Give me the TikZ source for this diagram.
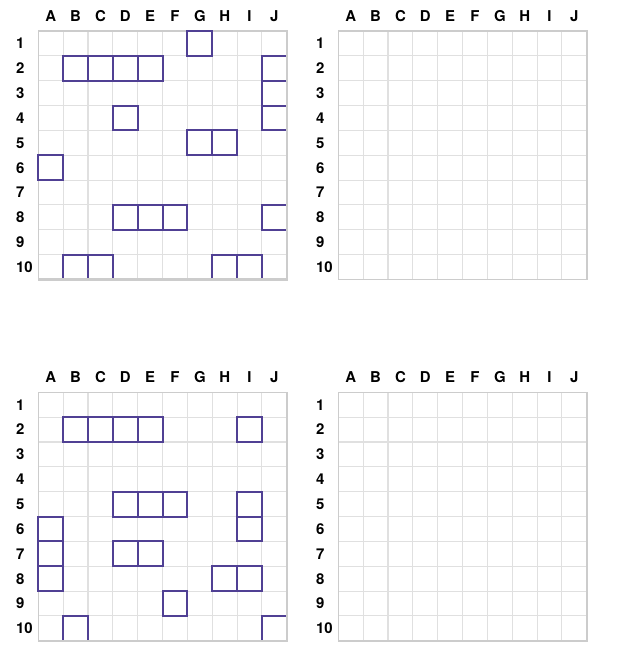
\documentclass[tikz,border=0pt]{standalone}
\usepackage{fontspec}
\setmainfont{TeX Gyre Heros}
\definecolor{shipc}{RGB}{80,64,148}
\definecolor{gridc}{RGB}{224,224,224}
\definecolor{edgec}{RGB}{204,204,204}

\begin{document}
\begin{tikzpicture}[x=0.02cm,y=-0.02cm,
  lbl/.style={font=\bfseries\fontsize{8.5}{8.5}\selectfont, inner sep=0pt},
  ship/.style={draw=shipc, line width=1.1pt},
  gridline/.style={draw=gridc, line width=0.6pt},
  edgeline/.style={draw=edgec, line width=0.9pt}]
  \useasboundingbox (0,0) rectangle (622,647);
  \def\cw{24.85}
  \pgfmathsetmacro{\bw}{10*\cw}

  % four boards: own and enemy, twice
  \foreach \bx/\by/\bn in {38.3/31/tl, 338.3/31/tr, 38.3/392.3/bl, 338.3/392.3/br} {
    \begin{scope}[shift={(\bx,\by)}]
      \foreach \i in {1,...,9} {
        \draw[gridline] ({\i*\cw}, 0) -- ++(0, \bw);
        \draw[gridline] (0, {\i*\cw}) -- ++(\bw, 0);
      }
      \draw[edgeline] (0, 0) rectangle (\bw, \bw);
      \foreach \c [count=\i] in {A,B,C,D,E,F,G,H,I,J}
        \node[lbl] (\bn-col\i) at ({(\i-0.5)*\cw}, -15) {\c};
      \foreach \r in {1,...,10}
        \node[lbl, anchor=west] (\bn-row\r) at (-22.5, {(\r-0.5)*\cw}) {\r};
    \end{scope}
  }

  % ships, top board
  \begin{scope}[shift={(38.3,31)}]
    \foreach \c/\r in {7/1, 2/2, 3/2, 4/2, 5/2, 10/2, 10/3, 10/4, 4/4, 7/5, 8/5,
                       1/6, 4/8, 5/8, 6/8, 10/8, 2/10, 3/10, 8/10, 9/10}
      \draw[ship] ({(\c-1)*\cw}, {(\r-1)*\cw}) rectangle ++(\cw, \cw);
    \draw[edgeline, line width=1.4pt] (\bw, 0) -- (\bw, \bw) -- (0, \bw);
  \end{scope}

  % ships, bottom board
  \begin{scope}[shift={(38.3,392.3)}]
    \foreach \c/\r in {2/2, 3/2, 4/2, 5/2, 9/2, 4/5, 5/5, 6/5, 9/5, 9/6,
                       1/6, 1/7, 1/8, 4/7, 5/7, 8/8, 9/8, 6/9, 2/10, 10/10}
      \draw[ship] ({(\c-1)*\cw}, {(\r-1)*\cw}) rectangle ++(\cw, \cw);
    \draw[edgeline, line width=1.4pt] (\bw, 0) -- (\bw, \bw) -- (0, \bw);
  \end{scope}
\end{tikzpicture}
\end{document}
